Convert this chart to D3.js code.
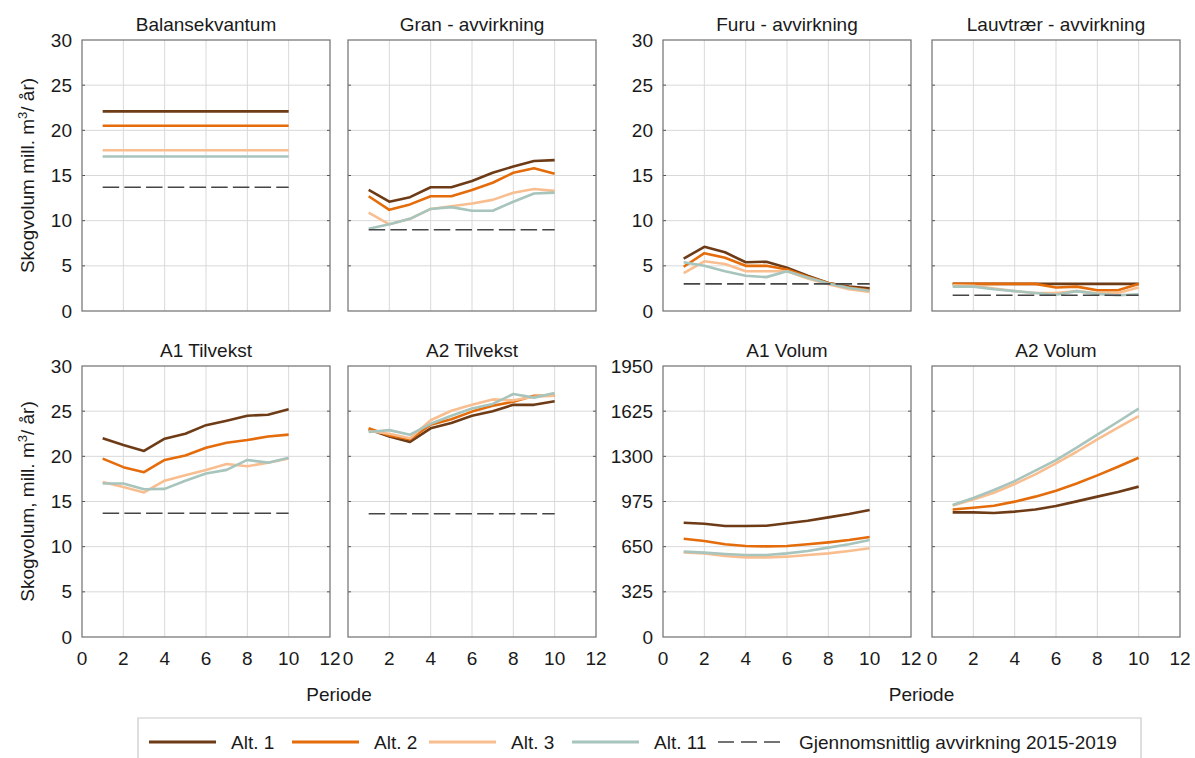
<!DOCTYPE html>
<html><head><meta charset="utf-8">
<script src="https://cdn.jsdelivr.net/npm/d3@7"></script>
<style>
body{margin:0;background:#fff}
text{font-family:"Liberation Sans",Arial,sans-serif;fill:#1a1a1a}
</style>
</head><body>
<svg id="c" width="1195" height="758"></svg>
<script>
// ---------------- DATA ----------------
const periods = [1,2,3,4,5,6,7,8,9,10];
const altLabels = ["Alt. 1","Alt. 2","Alt. 3","Alt. 11"];
const refLabel = "Gjennomsnittlig avvirkning 2015-2019";
const panelTitles = ["Balansekvantum","Gran - avvirkning","Furu - avvirkning","Lauvtrær - avvirkning",
                     "A1 Tilvekst","A2 Tilvekst","A1 Volum","A2 Volum"];
const xTicks = [0,2,4,6,8,10,12];
const yTicksHarvest = [0,5,10,15,20,25,30];
const yTicksVolume = [0,325,650,975,1300,1625,1950];
const xLabel = "Periode";

const balansekvantum = [
  [22.1,22.1,22.1,22.1,22.1,22.1,22.1,22.1,22.1,22.1],
  [20.5,20.5,20.5,20.5,20.5,20.5,20.5,20.5,20.5,20.5],
  [17.8,17.8,17.8,17.8,17.8,17.8,17.8,17.8,17.8,17.8],
  [17.1,17.1,17.1,17.1,17.1,17.1,17.1,17.1,17.1,17.1]
];
const granAvvirkning = [
  [13.4,12.1,12.6,13.7,13.7,14.4,15.3,16.0,16.6,16.7],
  [12.7,11.2,11.8,12.7,12.7,13.4,14.2,15.3,15.8,15.2],
  [10.9,9.6,10.2,11.3,11.6,11.9,12.3,13.1,13.5,13.3],
  [9.1,9.6,10.2,11.3,11.5,11.1,11.1,12.1,13.0,13.1]
];
const furuAvvirkning = [
  [5.8,7.1,6.5,5.4,5.45,4.8,3.9,3.1,2.7,2.5],
  [4.9,6.4,5.9,5.0,5.0,4.6,3.8,3.1,2.6,2.3],
  [4.2,5.5,5.2,4.4,4.4,4.4,3.6,2.95,2.4,2.1],
  [5.4,5.0,4.4,3.9,3.75,4.4,3.7,3.05,2.55,2.25]
];
const lauvAvvirkning = [
  [3.0,3.0,3.0,3.0,3.0,3.0,3.0,3.0,3.0,3.0],
  [3.0,3.0,3.0,3.0,3.0,2.6,2.7,2.3,2.3,3.0],
  [2.85,2.8,2.5,2.2,2.0,2.0,2.2,1.95,2.0,2.6],
  [2.7,2.7,2.4,2.2,2.0,1.8,2.2,1.9,1.75,1.85]
];
const a1Tilvekst = [
  [22.0,21.25,20.6,21.95,22.5,23.45,23.95,24.5,24.6,25.2],
  [19.75,18.8,18.25,19.6,20.1,20.95,21.5,21.8,22.2,22.4],
  [17.15,16.6,16.0,17.3,17.9,18.5,19.15,18.9,19.3,19.75],
  [17.0,17.0,16.35,16.4,17.3,18.1,18.5,19.6,19.3,19.85]
];
const a2Tilvekst = [
  [23.0,22.2,21.6,23.1,23.7,24.5,25.0,25.7,25.7,26.1],
  [23.1,22.3,21.9,23.5,24.1,24.95,25.6,26.05,26.7,26.7],
  [22.8,22.5,22.0,24.0,25.05,25.7,26.3,26.2,26.6,26.7],
  [22.7,22.9,22.4,23.6,24.5,25.3,25.8,26.9,26.5,27.0]
];
const a1Volum = [
  [822,815,799,799,801,818,837,861,885,914],
  [707,691,667,655,652,655,667,681,698,719],
  [609,602,583,573,573,578,590,602,619,638],
  [614,607,597,590,590,602,619,643,667,698]
];
const a2Volum = [
  [897,897,892,902,918,942,976,1010,1043,1082],
  [918,930,945,974,1010,1053,1105,1163,1225,1290],
  [947,990,1038,1101,1170,1249,1333,1422,1506,1590],
  [950,1000,1058,1122,1197,1273,1362,1456,1549,1643]
];
const refValues = [13.7, 9.0, 3.0, 1.75, 13.7, 13.65, null, null];

// ---------------- STYLE / LAYOUT ----------------
const colors = ["#6e3b17","#e46c0a","#f9be90","#a7c4bd"];
const refColor = "#454545";
const panelSeries = [balansekvantum, granAvvirkning, furuAvvirkning, lauvAvvirkning,
                     a1Tilvekst, a2Tilvekst, a1Volum, a2Volum];
const colX = [82, 348, 663, 932];
const rowY = [40, 366];
const pw = 248, ph = 271;
const FS = 19;

const svg = d3.select("#c");

panelSeries.forEach((series, i) => {
  const row = Math.floor(i / 4), col = i % 4;
  const x0 = colX[col], y0 = rowY[row];
  const isVol = (i >= 6);
  const yTicks = isVol ? yTicksVolume : yTicksHarvest;
  const x = d3.scaleLinear().domain([0, 12]).range([x0, x0 + pw]);
  const y = d3.scaleLinear().domain([0, yTicks[yTicks.length - 1]]).range([y0 + ph, y0]);
  const g = svg.append("g");

  // gridlines
  g.selectAll(".gx").data(xTicks.filter(t => t > 0 && t < 12)).enter().append("line")
    .attr("x1", d => x(d)).attr("x2", d => x(d)).attr("y1", y0).attr("y2", y0 + ph)
    .attr("stroke", "#d9d9d9").attr("stroke-width", 1);
  g.selectAll(".gy").data(yTicks.slice(1, -1)).enter().append("line")
    .attr("x1", x0).attr("x2", x0 + pw).attr("y1", d => y(d)).attr("y2", d => y(d))
    .attr("stroke", "#d9d9d9").attr("stroke-width", 1);

  // small tick marks on left and right borders
  yTicks.slice(1, -1).forEach(t => {
    g.append("line").attr("x1", x0).attr("x2", x0 + 3).attr("y1", y(t)).attr("y2", y(t))
      .attr("stroke", "#555").attr("stroke-width", 1);
    g.append("line").attr("x1", x0 + pw - 3).attr("x2", x0 + pw).attr("y1", y(t)).attr("y2", y(t))
      .attr("stroke", "#555").attr("stroke-width", 1);
  });

  // frame
  g.append("rect").attr("x", x0).attr("y", y0).attr("width", pw).attr("height", ph)
    .attr("fill", "none").attr("stroke", "#6f6f6f").attr("stroke-width", 1.2);

  // title
  g.append("text").attr("x", x0 + pw / 2).attr("y", row === 0 ? 31 : 357)
    .attr("text-anchor", "middle").attr("font-size", FS).text(panelTitles[i]);

  // y tick labels (only first column of each half)
  if (col === 0 || col === 2) {
    g.selectAll(".yl").data(yTicks).enter().append("text")
      .attr("x", x0 - 10).attr("y", d => y(d) + 6.6)
      .attr("text-anchor", "end").attr("font-size", FS).text(d => d);
  }
  // x tick labels (bottom row)
  if (row === 1) {
    g.selectAll(".xl").data(xTicks).enter().append("text")
      .attr("x", d => x(d)).attr("y", 665)
      .attr("text-anchor", "middle").attr("font-size", FS).text(d => d);
  }

  // series lines
  const line = d3.line().x((d, k) => x(periods[k])).y(d => y(d));
  series.forEach((vals, s) => {
    g.append("path").datum(vals).attr("d", line)
      .attr("fill", "none").attr("stroke", colors[s]).attr("stroke-width", 2.6)
      .attr("stroke-linejoin", "round");
  });
  // reference dashed line
  if (refValues[i] !== null) {
    g.append("path").datum(periods.map(() => refValues[i])).attr("d", line)
      .attr("fill", "none").attr("stroke", refColor).attr("stroke-width", 1.6)
      .attr("stroke-dasharray", "16.5,5.2");
  }
});

// y-axis titles
[0, 1].forEach(r => {
  const cy = rowY[r] + ph / 2;
  const t = svg.append("text").attr("transform", `translate(34,${cy}) rotate(-90)`)
    .attr("text-anchor", "middle").attr("font-size", FS);
  t.append("tspan").text(r === 0 ? "Skogvolum mill. m" : "Skogvolum, mill. m");
  t.append("tspan").attr("dy", -7).attr("font-size", 13).text("3");
  t.append("tspan").attr("dy", 7).text("/ år)");
});

// x-axis titles
[[colX[0], colX[1] + pw], [colX[2], colX[3] + pw]].forEach(([a, b]) => {
  svg.append("text").attr("x", (a + b) / 2).attr("y", 701)
    .attr("text-anchor", "middle").attr("font-size", FS).text(xLabel);
});

// legend
svg.append("path").attr("d", "M138,770 V718 H1141 V770")
  .attr("fill", "none").attr("stroke", "#c9c9c9").attr("stroke-width", 1.2);
const legStarts = [149, 292, 429, 572];
altLabels.forEach((lab, k) => {
  const sx = legStarts[k];
  svg.append("line").attr("x1", sx).attr("x2", sx + 67).attr("y1", 742).attr("y2", 742)
    .attr("stroke", colors[k]).attr("stroke-width", 3);
  svg.append("text").attr("x", sx + 82).attr("y", 749).attr("font-size", FS).text(lab);
});
svg.append("line").attr("x1", 718).attr("x2", 780).attr("y1", 742).attr("y2", 742)
  .attr("stroke", refColor).attr("stroke-width", 1.6).attr("stroke-dasharray", "16,7");
svg.append("text").attr("x", 799).attr("y", 749).attr("font-size", FS).text(refLabel);
</script>
</body></html>
